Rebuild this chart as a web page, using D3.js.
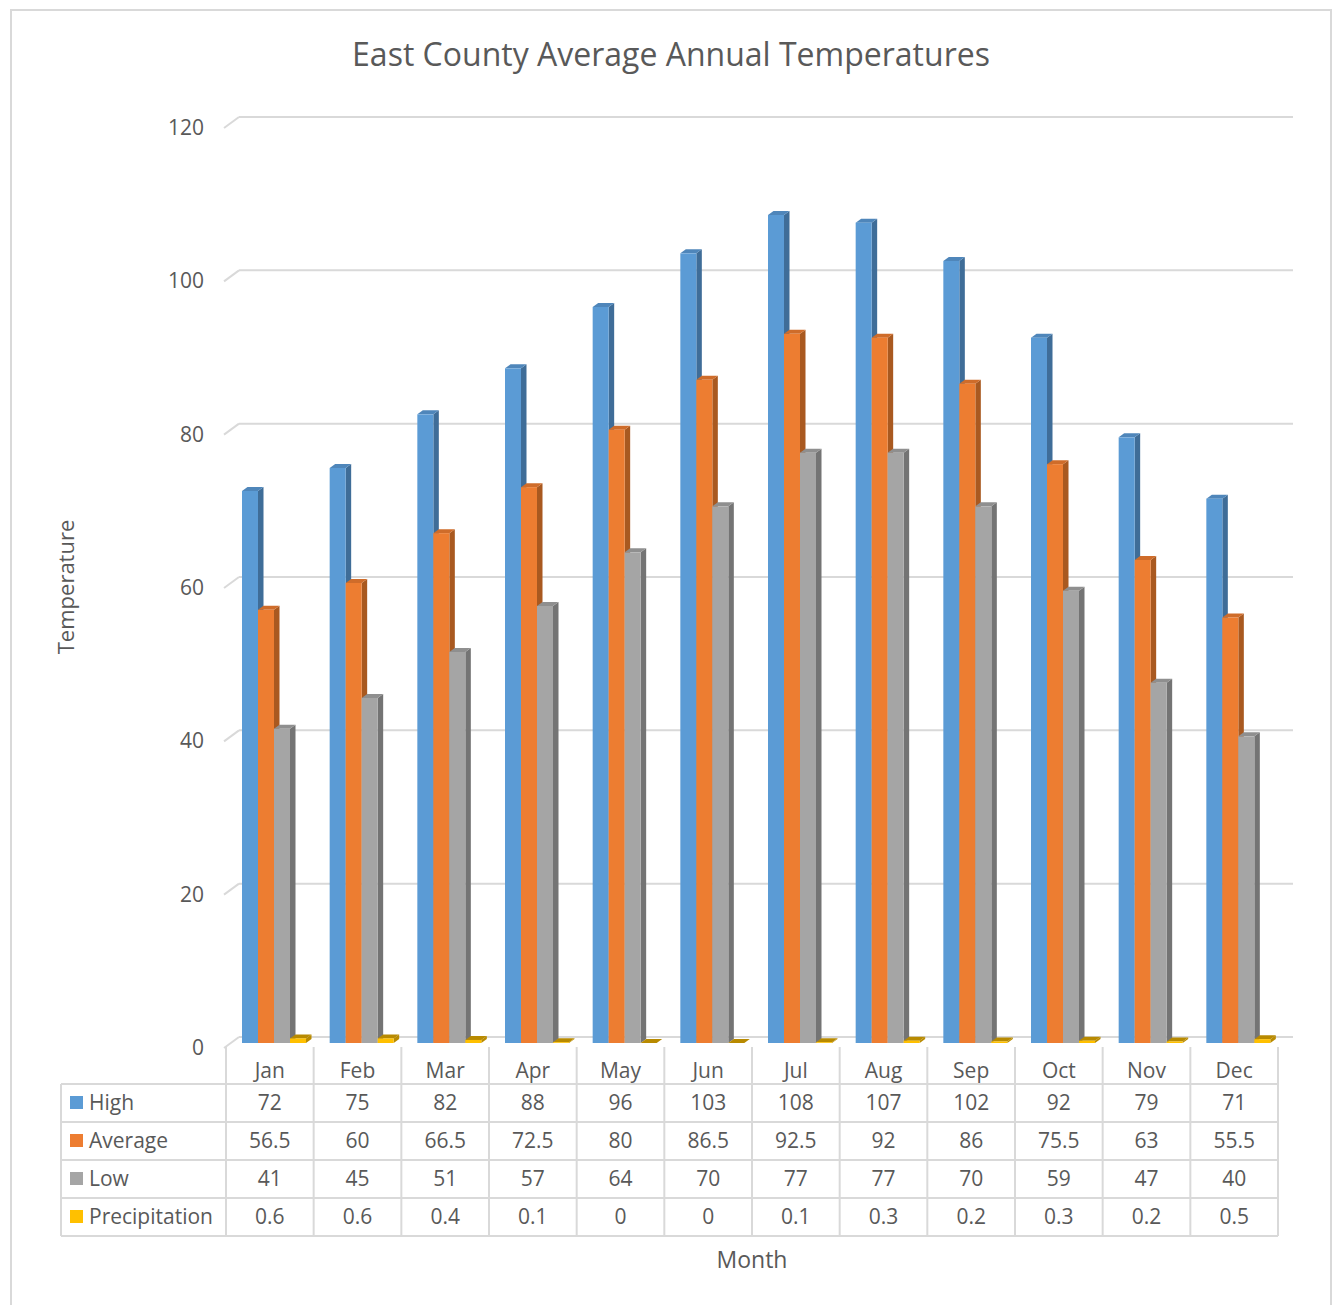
<!DOCTYPE html>
<html lang="en">
<head>
<meta charset="utf-8">
<title>East County Average Annual Temperatures</title>
<script src="https://d3js.org/d3.v7.min.js"></script>
<style>
body { margin: 0; background: #fff; font-family: "Open Sans", sans-serif; }
svg text { fill: #595959; }
</style>
</head>
<body>
<svg width="1335" height="1305"></svg>
<script>
// data
var months = ["Jan", "Feb", "Mar", "Apr", "May", "Jun", "Jul", "Aug", "Sep", "Oct", "Nov", "Dec"];
var seriesNames = ["High", "Average", "Low", "Precipitation"];
var high = [72, 75, 82, 88, 96, 103, 108, 107, 102, 92, 79, 71];
var average = [56.5, 60, 66.5, 72.5, 80, 86.5, 92.5, 92, 86, 75.5, 63, 55.5];
var low = [41, 45, 51, 57, 64, 70, 77, 77, 70, 59, 47, 40];
var precipitation = [0.6, 0.6, 0.4, 0.1, 0, 0, 0.1, 0.3, 0.2, 0.3, 0.2, 0.5];
var yTicks = [0, 20, 40, 60, 80, 100, 120];

var seriesValues = [high, average, low, precipitation];
var fills = ["#5b9bd5", "#ed7d31", "#a5a5a5", "#ffc000"];
var sides = ["#3f6d98", "#a95920", "#747474", "#b88a00"];
var tops = ["#4f86ba", "#cf6c2a", "#8f8f8f", "#dda600"];

var svg = d3.select("svg");

// outer frame
svg.append("rect")
  .attr("x", 11).attr("y", 10).attr("width", 1320).attr("height", 1310)
  .attr("fill", "none").attr("stroke", "#d9d9d9").attr("stroke-width", 2);

// title
svg.append("text")
  .attr("x", 671).attr("y", 66)
  .attr("text-anchor", "middle")
  .style("font-size", "32px")
  .text("East County Average Annual Temperatures");

var x = d3.scaleBand().domain(months).range([226, 1278]);
var xInner = d3.scaleBand().domain(seriesNames).range([16, 80]);
var yFront = d3.scaleLinear().domain([0, 120]).range([1043, 123]);
var yBack = d3.scaleLinear().domain([0, 120]).range([1037, 117]);

var dx = 5.5, dy = -4;

// back wall gridlines with short diagonal on the left side wall
var grid = svg.append("g");
yTicks.forEach(function(t) {
  var yy = yBack(t);
  grid.append("line")
    .attr("x1", 239).attr("x2", 1293).attr("y1", yy).attr("y2", yy)
    .attr("stroke", "#d9d9d9").attr("stroke-width", 2);
  grid.append("line")
    .attr("x1", 224).attr("y1", yy + 11).attr("x2", 239).attr("y2", yy)
    .attr("stroke", "#d9d9d9").attr("stroke-width", 2);
  svg.append("text")
    .attr("x", 204).attr("y", yy + 18)
    .attr("text-anchor", "end")
    .style("font-size", "21px")
    .text(t);
});

// y axis title
svg.append("text")
  .attr("transform", "translate(74,587) rotate(-90)")
  .attr("text-anchor", "middle")
  .style("font-size", "22px")
  .text("Temperature");

// 3D-ish bars
var bars = svg.append("g");
months.forEach(function(m, i) {
  seriesNames.forEach(function(s, k) {
    var v = seriesValues[k][i];
    var x0 = x(m) + xInner(s);
    var w = xInner.bandwidth();
    var yt = yFront(v), yb = yFront(0);
    var g = bars.append("g");
    // side face
    g.append("path")
      .attr("d", "M" + (x0 + w) + "," + yb + "L" + (x0 + w) + "," + yt +
        "L" + (x0 + w + dx) + "," + (yt + dy) + "L" + (x0 + w + dx) + "," + (yb + dy) + "Z")
      .attr("fill", sides[k]);
    // top face
    g.append("path")
      .attr("d", "M" + x0 + "," + yt + "L" + (x0 + dx) + "," + (yt + dy) +
        "L" + (x0 + w + dx) + "," + (yt + dy) + "L" + (x0 + w) + "," + yt + "Z")
      .attr("fill", v > 0 && k < 3 ? tops[k] : sides[k]);
    // front face
    if (v > 0) {
      g.append("rect")
        .attr("x", x0).attr("y", yt).attr("width", w).attr("height", yb - yt)
        .attr("fill", fills[k]);
    }
  });
});

// data table
var table = svg.append("g");
var rowTop = 1084, rowH = 38;
var lineColor = "#d9d9d9";
var tableBottom = rowTop + rowH * seriesNames.length;

// vertical lines
var colEdges = months.map(function(m) { return x(m); }).concat([x.range()[1]]);
colEdges.forEach(function(cx) {
  table.append("line")
    .attr("x1", cx).attr("x2", cx).attr("y1", 1047).attr("y2", tableBottom)
    .attr("stroke", lineColor).attr("stroke-width", 2);
});
table.append("line")
  .attr("x1", 61).attr("x2", 61).attr("y1", rowTop).attr("y2", tableBottom)
  .attr("stroke", lineColor).attr("stroke-width", 2);

// horizontal lines
for (var r = 0; r <= seriesNames.length; r++) {
  table.append("line")
    .attr("x1", 61).attr("x2", 1278)
    .attr("y1", rowTop + r * rowH).attr("y2", rowTop + r * rowH)
    .attr("stroke", lineColor).attr("stroke-width", 2);
}

// month header
months.forEach(function(m) {
  table.append("text")
    .attr("x", x(m) + x.bandwidth() / 2).attr("y", 1078)
    .attr("text-anchor", "middle")
    .style("font-size", "21px")
    .text(m);
});

// rows
seriesNames.forEach(function(s, k) {
  var cy = rowTop + k * rowH + rowH / 2;
  table.append("rect")
    .attr("x", 70).attr("y", cy - 7).attr("width", 13).attr("height", 13)
    .attr("fill", fills[k]);
  table.append("text")
    .attr("x", 89).attr("y", cy + 7)
    .style("font-size", "21px")
    .text(s);
  months.forEach(function(m, i) {
    table.append("text")
      .attr("x", x(m) + x.bandwidth() / 2).attr("y", cy + 7)
      .attr("text-anchor", "middle")
      .style("font-size", "21px")
      .text(seriesValues[k][i]);
  });
});

// x axis title
svg.append("text")
  .attr("x", 752).attr("y", 1268)
  .attr("text-anchor", "middle")
  .style("font-size", "23px")
  .text("Month");
</script>
</body>
</html>
